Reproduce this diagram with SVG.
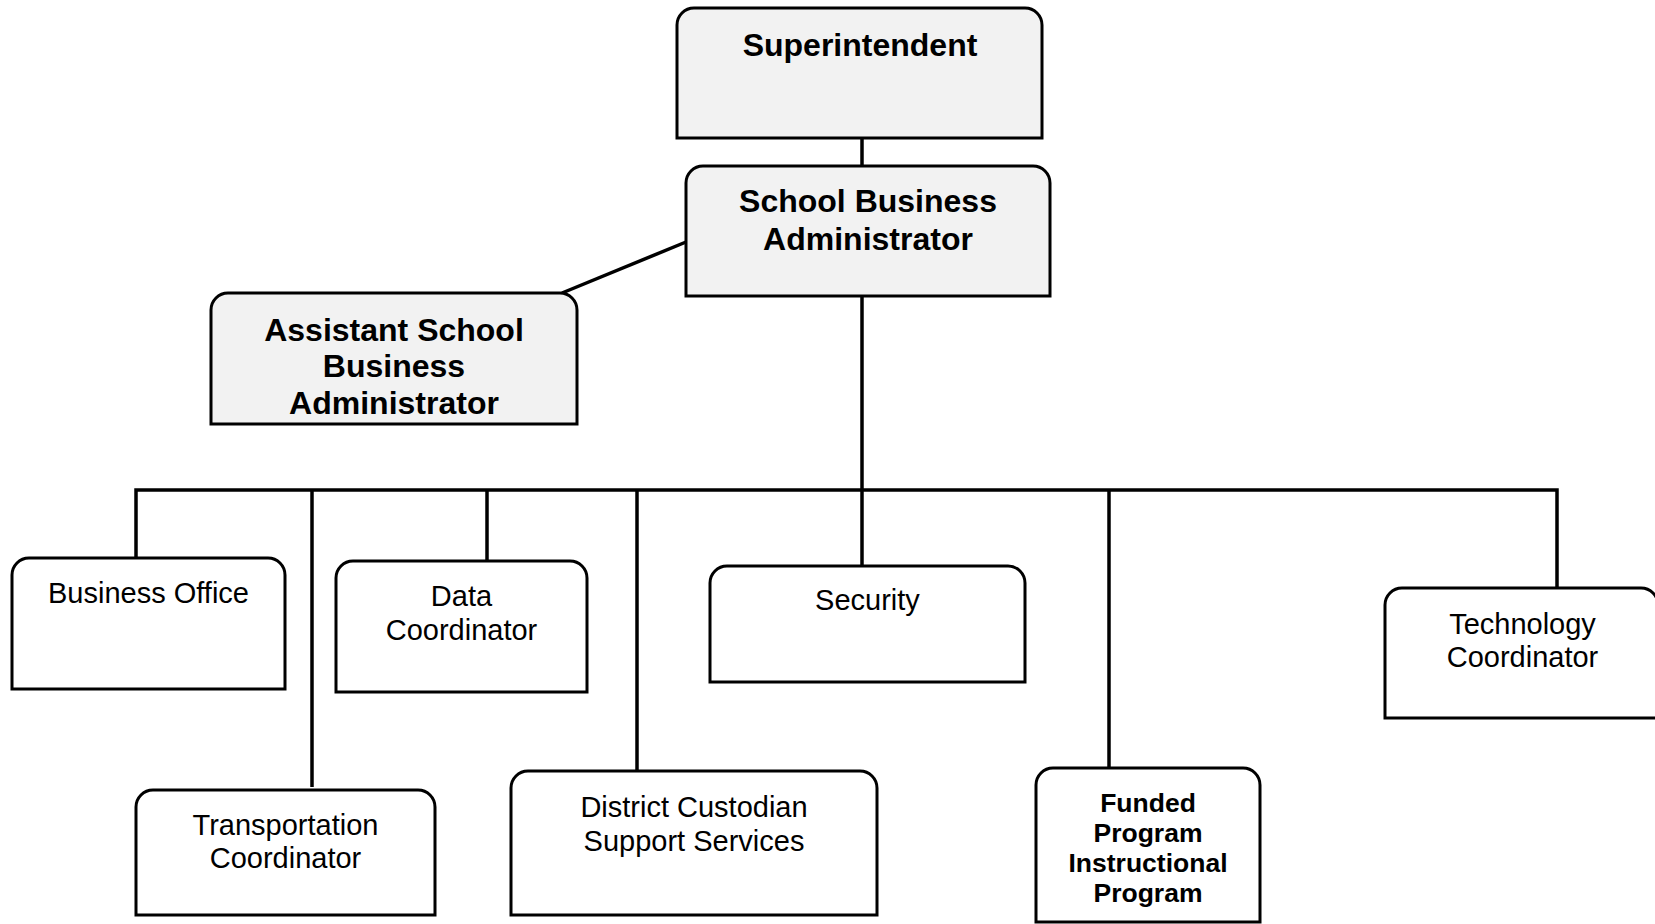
<svg xmlns="http://www.w3.org/2000/svg" width="1655" height="924" viewBox="0 0 1655 924">
<style>
.box{fill:#fff;stroke:#000;stroke-width:3}
.hi{fill:#f2f2f2}
.t{font-family:"Liberation Sans",Arial,sans-serif;fill:#000;text-anchor:middle}
.b{font-weight:bold;font-size:32px}
.r{font-size:29px}
.s{font-weight:bold;font-size:26.5px}
#connectors path{fill:none;stroke:#000;stroke-width:3.5}
</style>
<rect width="1655" height="924" fill="#fff"/>
<g id="connectors">
<path d="M862,138 V166"/>
<path d="M686,242 L562,293"/>
<path d="M862,296 V566"/>
<path d="M136,558 V490 H1557 V588" stroke-width="4"/>
<path d="M312,490 V787"/>
<path d="M487,490 V561"/>
<path d="M637,490 V771"/>
<path d="M1109,490 V768"/>
</g>
<g id="superintendent">
<path class="box hi" d="M677,138 V25 A17,17 0 0 1 694,8 H1025 A17,17 0 0 1 1042,25 V138 Z"/>
<text class="t b" x="860" y="56">Superintendent</text>
</g>
<g id="school-business-administrator">
<path class="box hi" d="M686,296 V183 A17,17 0 0 1 703,166 H1033 A17,17 0 0 1 1050,183 V296 Z"/>
<text class="t b" x="868" y="212">School Business</text>
<text class="t b" x="868" y="250">Administrator</text>
</g>
<g id="assistant-school-business-administrator">
<path class="box hi" d="M211,424 V310 A17,17 0 0 1 228,293 H560 A17,17 0 0 1 577,310 V424 Z"/>
<text class="t b" x="394" y="341">Assistant School</text>
<text class="t b" x="394" y="377">Business</text>
<text class="t b" x="394" y="414">Administrator</text>
</g>
<g id="business-office">
<path class="box" d="M12,689 V575 A17,17 0 0 1 29,558 H268 A17,17 0 0 1 285,575 V689 Z"/>
<text class="t r" x="148.5" y="603">Business Office</text>
</g>
<g id="data-coordinator">
<path class="box" d="M336,692 V578 A17,17 0 0 1 353,561 H570 A17,17 0 0 1 587,578 V692 Z"/>
<text class="t r" x="461.5" y="606">Data</text>
<text class="t r" x="461.5" y="640">Coordinator</text>
</g>
<g id="security">
<path class="box" d="M710,682 V583 A17,17 0 0 1 727,566 H1008 A17,17 0 0 1 1025,583 V682 Z"/>
<text class="t r" x="867.5" y="610">Security</text>
</g>
<g id="technology-coordinator">
<path class="box" d="M1385,718 V605 A17,17 0 0 1 1402,588 H1641 A17,17 0 0 1 1658,605 V718 Z"/>
<text class="t r" x="1522.5" y="634">Technology</text>
<text class="t r" x="1522.5" y="667">Coordinator</text>
</g>
<g id="transportation-coordinator">
<path class="box" d="M136,915 V807 A17,17 0 0 1 153,790 H418 A17,17 0 0 1 435,807 V915 Z"/>
<text class="t r" x="285.5" y="835">Transportation</text>
<text class="t r" x="285.5" y="868">Coordinator</text>
</g>
<g id="district-custodian">
<path class="box" d="M511,915 V788 A17,17 0 0 1 528,771 H860 A17,17 0 0 1 877,788 V915 Z"/>
<text class="t r" x="694" y="817">District Custodian</text>
<text class="t r" x="694" y="851">Support Services</text>
</g>
<g id="funded-program">
<path class="box" d="M1036,922 V785 A17,17 0 0 1 1053,768 H1243 A17,17 0 0 1 1260,785 V922 Z"/>
<text class="t s" x="1148" y="812">Funded</text>
<text class="t s" x="1148" y="842">Program</text>
<text class="t s" x="1148" y="872">Instructional</text>
<text class="t s" x="1148" y="902">Program</text>
</g>
</svg>
